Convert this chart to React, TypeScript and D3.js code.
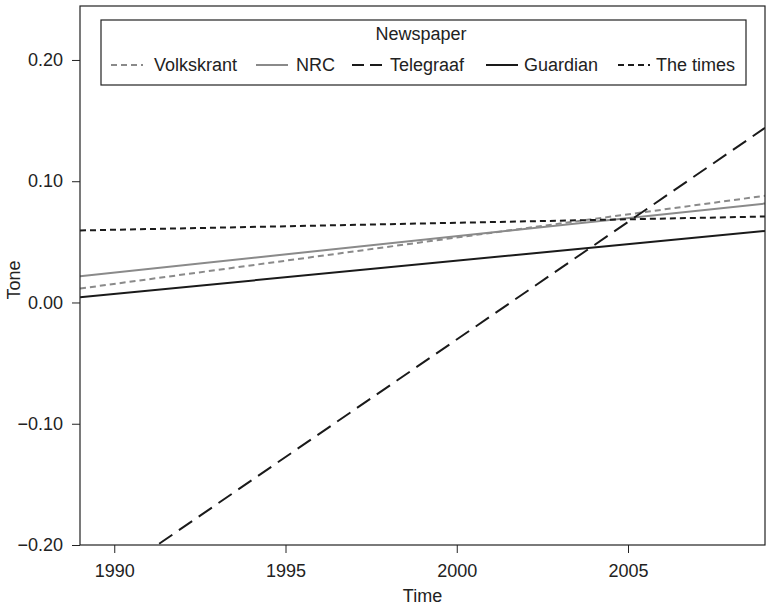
import React, { useRef, useEffect } from 'react';
import * as d3 from 'd3';

// trend line endpoints (1989 and 2009)
const years = [1989, 2009];
const volkskrant = [0.0115, 0.088];
const nrc = [0.0217, 0.0816];
const telegraaf = [-0.2438, 0.144];
const guardian = [0.0044, 0.059];
const theTimes = [0.0594, 0.0709];

const xTicks = [1990, 1995, 2000, 2005];
const yTicks = [-0.2, -0.1, 0, 0.1, 0.2];

const seriesNames = ['Volkskrant', 'NRC', 'Telegraaf', 'Guardian', 'The times'];
const seriesValues = [volkskrant, nrc, telegraaf, guardian, theTimes];
const seriesColors = ['#8a8a8a', '#8a8a8a', '#1a1a1a', '#1a1a1a', '#1a1a1a'];
const seriesDash = ['6,4', null, '16,8', null, '6,4'];

const App = () => {
  const svgRef = useRef<SVGSVGElement>(null);

  useEffect(() => {
    const svg = d3.select(svgRef.current);
    svg.selectAll('*').remove();

    const font = 'Liberation Sans, Arial, Helvetica, sans-serif';
    const fs = 18;
    const left = 80, right = 765, top = 6, bottom = 545;

    const x = d3.scaleLinear().domain([1989, 2009]).range([left, right]);
    const y = d3.scaleLinear().domain([-0.2, 0.2445]).range([bottom, top]);

    // clip so lines stay inside the box
    svg.append('defs').append('clipPath').attr('id', 'plotclip')
      .append('rect')
      .attr('x', left).attr('y', top)
      .attr('width', right - left).attr('height', bottom - top);

    const line = d3.line<[number, number]>()
      .x(d => x(d[0]))
      .y(d => y(d[1]));

    const lines = svg.append('g').attr('clip-path', 'url(#plotclip)');
    seriesValues.forEach((vals, i) => {
      const pts = years.map((yr, j) => [yr, vals[j]] as [number, number]);
      lines.append('path')
        .attr('d', line(pts))
        .attr('fill', 'none')
        .attr('stroke', seriesColors[i])
        .attr('stroke-width', 2)
        .attr('stroke-dasharray', seriesDash[i]);
    });

    // box
    svg.append('rect')
      .attr('x', left).attr('y', top)
      .attr('width', right - left).attr('height', bottom - top)
      .attr('fill', 'none')
      .attr('stroke', '#222')
      .attr('stroke-width', 1.2);

    // axes
    const xAxis = d3.axisBottom(x).tickValues(xTicks).tickFormat(d3.format('d')).tickSize(8).tickSizeOuter(0);
    const gx = svg.append('g').attr('transform', `translate(0,${bottom})`).call(xAxis);
    gx.select('.domain').remove();
    gx.selectAll('line').attr('stroke', '#222');
    gx.selectAll('text')
      .attr('font-family', font).attr('font-size', fs).attr('fill', '#222')
      .attr('y', 19);

    const yFmt = (d: number) => {
      const s = d3.format('.2f')(Math.abs(d));
      return d < 0 ? '\u2212' + s : s;
    };
    const yAxis = d3.axisLeft(y).tickValues(yTicks).tickFormat(d => yFmt(+d)).tickSize(8).tickSizeOuter(0);
    const gy = svg.append('g').attr('transform', `translate(${left},0)`).call(yAxis);
    gy.select('.domain').remove();
    gy.selectAll('line').attr('stroke', '#222');
    gy.selectAll('text')
      .attr('font-family', font).attr('font-size', fs).attr('fill', '#222')
      .attr('x', -17);

    // axis titles
    svg.append('text')
      .attr('x', (left + right) / 2).attr('y', 602)
      .attr('text-anchor', 'middle')
      .attr('font-family', font).attr('font-size', fs).attr('fill', '#222')
      .text('Time');
    svg.append('text')
      .attr('transform', `translate(20,280) rotate(-90)`)
      .attr('text-anchor', 'middle')
      .attr('font-family', font).attr('font-size', fs).attr('fill', '#222')
      .text('Tone');

    // legend
    const lg = svg.append('g');
    lg.append('rect')
      .attr('x', 101).attr('y', 20).attr('width', 645).attr('height', 65)
      .attr('fill', 'white').attr('stroke', '#222').attr('stroke-width', 1.2);
    lg.append('text')
      .attr('x', 421).attr('y', 40)
      .attr('text-anchor', 'middle')
      .attr('font-family', font).attr('font-size', fs).attr('fill', '#222')
      .text('Newspaper');

    const keyStarts = [111, 256, 352, 486, 618];
    const textStarts = [154, 296, 390, 524, 656];
    seriesNames.forEach((name, i) => {
      const x0 = keyStarts[i];
      lg.append('line')
        .attr('x1', x0).attr('x2', x0 + 32)
        .attr('y1', 65).attr('y2', 65)
        .attr('stroke', seriesColors[i])
        .attr('stroke-width', 2)
        .attr('stroke-dasharray', seriesDash[i] === '16,8' ? '12,6' : seriesDash[i]);
      lg.append('text')
        .attr('x', textStarts[i]).attr('y', 71)
        .attr('font-family', font).attr('font-size', fs).attr('fill', '#222')
        .text(name);
    });
  }, []);

  return (
    <div style={{ position: 'absolute', left: 0, top: 0 }}>
      <svg ref={svgRef} width={766} height={606} style={{ display: 'block', background: 'white' }}></svg>
    </div>
  );
};

export default App;
